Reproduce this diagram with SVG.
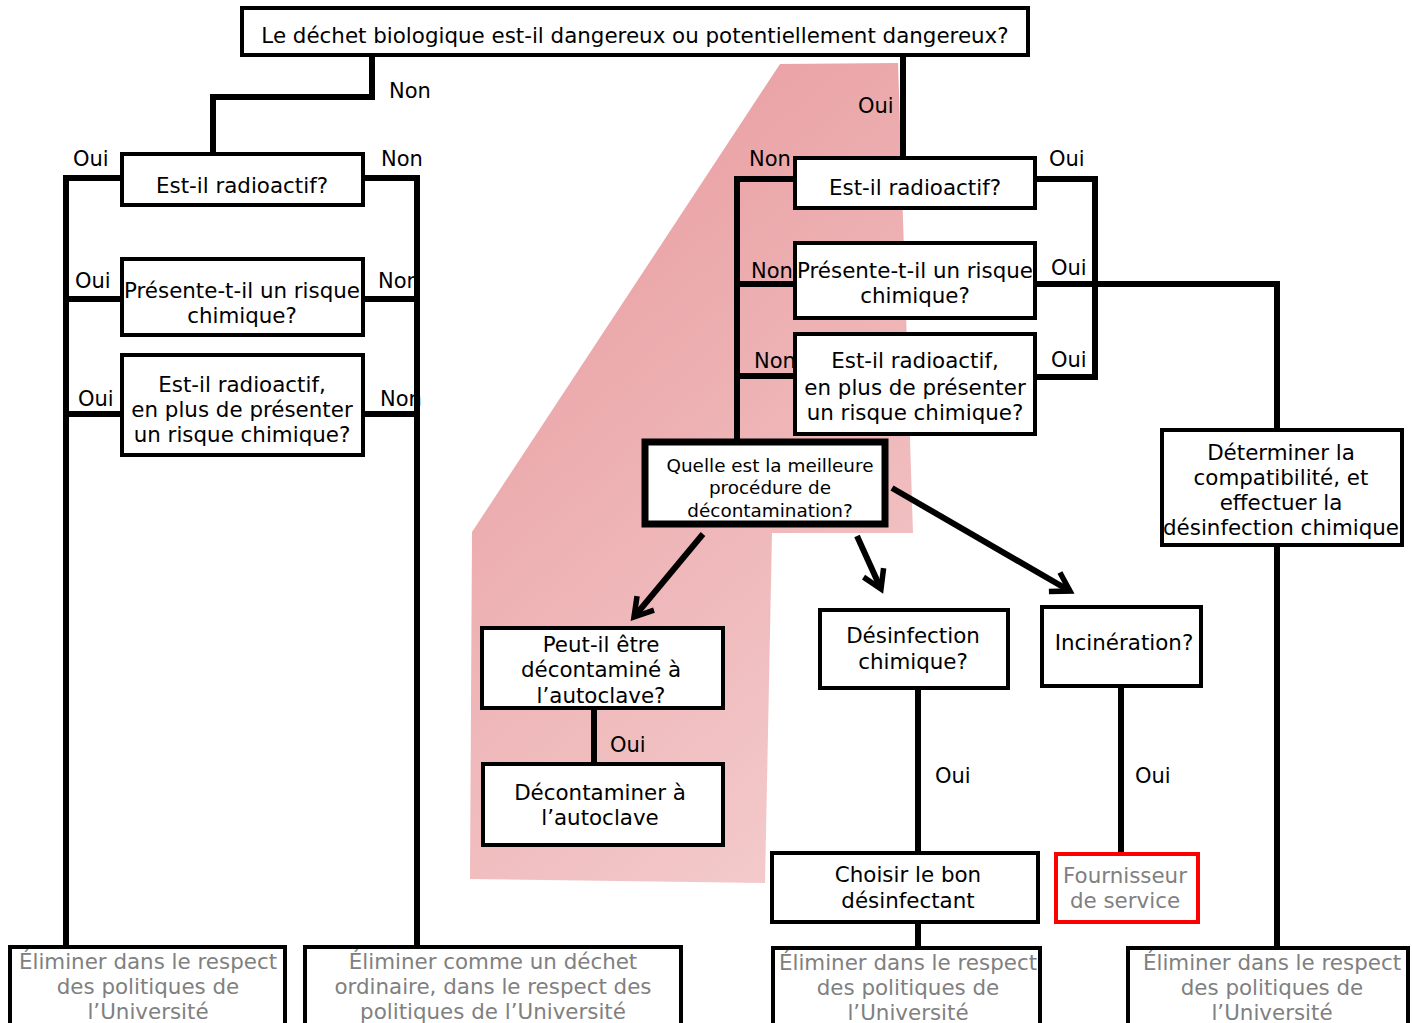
<svg xmlns="http://www.w3.org/2000/svg" width="1412" height="1023" viewBox="0 0 1412 1023">
<defs>
<linearGradient id="pink" gradientUnits="userSpaceOnUse" x1="480" y1="300" x2="920" y2="820">
<stop offset="0" stop-color="#eaa3a6"/>
<stop offset="1" stop-color="#f4cdce"/>
</linearGradient>
<marker id="arr" markerUnits="userSpaceOnUse" markerWidth="30" markerHeight="30" viewBox="0 0 30 30" refX="24" refY="15" orient="auto">
<path d="M6,4 L24,15 L6,26" fill="none" stroke="#000" stroke-width="5.5" stroke-linejoin="miter"/>
</marker>
<style>
.box{fill:#fff;stroke:#000;stroke-width:4}
.t{font-family:"DejaVu Sans",Verdana,sans-serif;font-size:21.4px;fill:#000;text-anchor:middle}
.lbl{font-family:"DejaVu Sans",Verdana,sans-serif;font-size:21px;fill:#000}
.g{font-family:"DejaVu Sans",Verdana,sans-serif;font-size:21.4px;fill:#808080;text-anchor:middle}
.c{fill:none;stroke:#000;stroke-width:6;stroke-linejoin:miter}
.a{fill:none;stroke:#000;stroke-width:6;marker-end:url(#arr)}
</style>
</defs>
<rect width="1412" height="1023" fill="#fff"/>
<polygon points="780,64 898,63 913,533 772,533 765,883 470,879 472,532" fill="url(#pink)"/>

<g id="labels">
<text class="lbl" x="389" y="98">Non</text>
<text class="lbl" x="73" y="166">Oui</text>
<text class="lbl" x="381" y="166">Non</text>
<text class="lbl" x="75" y="288">Oui</text>
<text class="lbl" x="378" y="288">Non</text>
<text class="lbl" x="78" y="406">Oui</text>
<text class="lbl" x="380" y="406">Non</text>
<text class="lbl" x="858" y="113">Oui</text>
<text class="lbl" x="749" y="166">Non</text>
<text class="lbl" x="1049" y="166">Oui</text>
<text class="lbl" x="751" y="278">Non</text>
<text class="lbl" x="1051" y="275">Oui</text>
<text class="lbl" x="754" y="368">Non</text>
<text class="lbl" x="1051" y="367">Oui</text>
<text class="lbl" x="610" y="752">Oui</text>
<text class="lbl" x="935" y="783">Oui</text>
<text class="lbl" x="1135" y="783">Oui</text>
</g>

<g id="connectors">
<polyline class="c" points="372,55 372,97 213,97 213,154"/>
<polyline class="c" points="122,178 66,178 66,947"/>
<polyline class="c" points="363,178 417,178 417,947"/>
<line class="c" x1="66" y1="299" x2="122" y2="299"/>
<line class="c" x1="363" y1="299" x2="417" y2="299"/>
<line class="c" x1="66" y1="414" x2="122" y2="414"/>
<line class="c" x1="363" y1="414" x2="417" y2="414"/>
<line class="c" x1="903" y1="55" x2="903" y2="158"/>
<polyline class="c" points="795,179 737,179 737,440"/>
<polyline class="c" points="1035,179 1095,179 1095,377 1035,377"/>
<line class="c" x1="737" y1="284" x2="795" y2="284"/>
<polyline class="c" points="1035,284 1277,284 1277,430"/>
<line class="c" x1="737" y1="376" x2="795" y2="376"/>
<line class="a" x1="703" y1="534" x2="634" y2="617"/>
<line class="a" x1="857" y1="536" x2="881" y2="589"/>
<line class="a" x1="892" y1="488" x2="1070" y2="591"/>
<line class="c" x1="594" y1="708" x2="594" y2="764"/>
<line class="c" x1="918" y1="688" x2="918" y2="853"/>
<line class="c" x1="1121" y1="686" x2="1121" y2="853"/>
<line class="c" x1="918" y1="922" x2="918" y2="948"/>
<line class="c" x1="1277" y1="545" x2="1277" y2="948"/>
</g>

<g id="n-top">
<rect class="box" x="242" y="8" width="786" height="47"/>
<text class="t" x="635" y="43">Le déchet biologique est-il dangereux ou potentiellement dangereux?</text>
</g>
<g id="n-l1">
<rect class="box" x="122" y="154" width="241" height="51"/>
<text class="t" x="242" y="193">Est-il radioactif?</text>
</g>
<g id="n-l2">
<rect class="box" x="122" y="259" width="241" height="76"/>
<text class="t" x="242" y="298">Présente-t-il un risque</text>
<text class="t" x="242" y="323">chimique?</text>
</g>
<g id="n-l3">
<rect class="box" x="122" y="355" width="241" height="100"/>
<text class="t" x="242" y="392">Est-il radioactif,</text>
<text class="t" x="242" y="417">en plus de présenter</text>
<text class="t" x="242" y="442">un risque chimique?</text>
</g>
<g id="n-r1">
<rect class="box" x="795" y="158" width="240" height="50"/>
<text class="t" x="915" y="195">Est-il radioactif?</text>
</g>
<g id="n-r2">
<rect class="box" x="795" y="243" width="240" height="75"/>
<text class="t" x="915" y="278">Présente-t-il un risque</text>
<text class="t" x="915" y="303">chimique?</text>
</g>
<g id="n-r3">
<rect class="box" x="795" y="334" width="240" height="100"/>
<text class="t" x="915" y="368">Est-il radioactif,</text>
<text class="t" x="915" y="395">en plus de présenter</text>
<text class="t" x="915" y="420">un risque chimique?</text>
</g>
<g id="n-quelle">
<rect x="645" y="442" width="240" height="82" fill="#fff" stroke="#000" stroke-width="7"/>
<text class="t" style="font-size:18.4px" x="770" y="472">Quelle est la meilleure</text>
<text class="t" style="font-size:18.4px" x="770" y="494">procédure de</text>
<text class="t" style="font-size:18.4px" x="770" y="517">décontamination?</text>
</g>
<g id="n-peut">
<rect class="box" x="482" y="628" width="241" height="80"/>
<text class="t" x="601" y="652">Peut-il être</text>
<text class="t" x="601" y="677">décontaminé à</text>
<text class="t" x="601" y="703">l’autoclave?</text>
</g>
<g id="n-decont">
<rect class="box" x="483" y="764" width="240" height="81"/>
<text class="t" x="600" y="800">Décontaminer à</text>
<text class="t" x="600" y="825">l’autoclave</text>
</g>
<g id="n-desinf">
<rect class="box" x="820" y="610" width="188" height="78"/>
<text class="t" x="913" y="643">Désinfection</text>
<text class="t" x="913" y="669">chimique?</text>
</g>
<g id="n-incin">
<rect class="box" x="1042" y="607" width="159" height="79"/>
<text class="t" x="1124" y="650">Incinération?</text>
</g>
<g id="n-choisir">
<rect class="box" x="772" y="853" width="266" height="69"/>
<text class="t" x="908" y="882">Choisir le bon</text>
<text class="t" x="908" y="908">désinfectant</text>
</g>
<g id="n-fourn">
<rect x="1056" y="854" width="142" height="68" fill="#fff" stroke="#ff0000" stroke-width="4"/>
<text class="g" x="1125" y="883">Fournisseur</text>
<text class="g" x="1125" y="908">de service</text>
</g>
<g id="n-determ">
<rect class="box" x="1162" y="430" width="240" height="115"/>
<text class="t" x="1281" y="460">Déterminer la</text>
<text class="t" x="1281" y="485">compatibilité, et</text>
<text class="t" x="1281" y="510">effectuer la</text>
<text class="t" x="1281" y="535">désinfection chimique</text>
</g>
<g id="n-elim1">
<rect class="box" x="10" y="947" width="275" height="90"/>
<text class="g" x="148" y="969">Éliminer dans le respect</text>
<text class="g" x="148" y="994">des politiques de</text>
<text class="g" x="148" y="1019">l’Université</text>
</g>
<g id="n-elim2">
<rect class="box" x="305" y="947" width="376" height="90"/>
<text class="g" x="493" y="969">Éliminer comme un déchet</text>
<text class="g" x="493" y="994">ordinaire, dans le respect des</text>
<text class="g" x="493" y="1019">politiques de l’Université</text>
</g>
<g id="n-elim3">
<rect class="box" x="773" y="948" width="267" height="90"/>
<text class="g" x="908" y="970">Éliminer dans le respect</text>
<text class="g" x="908" y="995">des politiques de</text>
<text class="g" x="908" y="1020">l’Université</text>
</g>
<g id="n-elim4">
<rect class="box" x="1128" y="948" width="280" height="90"/>
<text class="g" x="1272" y="970">Éliminer dans le respect</text>
<text class="g" x="1272" y="995">des politiques de</text>
<text class="g" x="1272" y="1020">l’Université</text>
</g>
</svg>
